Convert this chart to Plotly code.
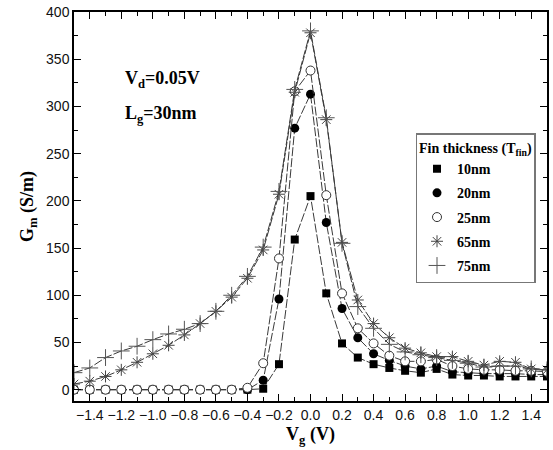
import plotly.graph_objects as go

vg = [-1.5, -1.4, -1.3, -1.2, -1.1, -1.0, -0.9, -0.8, -0.7, -0.6, -0.5, -0.4, -0.3, -0.2, -0.1,
      0.0, 0.1, 0.2, 0.3, 0.4, 0.5, 0.6, 0.7, 0.8, 0.9, 1.0, 1.1, 1.2, 1.3, 1.4, 1.5]

gm_10 = [0, 0, 0, 0, 0, 0, 0, 0, 0, 0, 0, 0, 1, 27, 159,
         205, 102, 49, 34, 27, 23, 20, 18, 22, 16, 15, 15, 14, 14, 14, 14]
gm_20 = [0, 0, 0, 0, 0, 0, 0, 0, 0, 0, 0, 0, 10, 96, 277,
         313, 177, 86, 55, 38, 31, 25, 22, 25, 19, 18, 17, 17, 17, 16, 16]
gm_25 = [0, 0, 0, 0, 0, 0, 0, 0, 0, 0, 0, 2, 28, 139, 316,
         338, 206, 102, 65, 49, 36, 30, 30, 32, 25, 22, 21, 21, 20, 20, 19]
gm_65 = [6, 9, 14, 21, 29, 38, 47, 58, 70, 83, 98, 118, 148, 207, 315,
         378, 286, 156, 95, 70, 55, 44, 39, 35, 35, 30, 26, 30, 29, 22, 21]
gm_75 = [18, 23, 34, 41, 46, 53, 59, 64, 70, 83, 100, 120, 151, 210, 318,
         380, 288, 155, 88, 65, 48, 40, 37, 34, 31, 28, 24, 25, 25, 22, 21]

labels = ["10nm", "20nm", "25nm", "65nm", "75nm"]
series = [gm_10, gm_20, gm_25, gm_65, gm_75]
symbols = ["square", "circle", "circle-open", "asterisk-open", "cross-thin-open"]
sizes = [8, 9, 9, 10, 12]
mcolors = ["black", "black", "#333333", "#444444", "#555555"]


def marker_for(sym, sz, mc):
    if sym == "circle-open":
        # white-filled circle so lines do not show through
        return dict(symbol="circle", size=sz, color="white", line=dict(color=mc, width=1))
    if "open" in sym:
        return dict(symbol=sym, size=sz, color=mc, line=dict(color=mc, width=1))
    return dict(symbol=sym, size=sz, color=mc, line=dict(color=mc, width=0))


fig = go.Figure()
for lab, ys, sym, sz, mc in zip(labels, series, symbols, sizes, mcolors):
    fig.add_trace(go.Scatter(
        x=vg, y=ys, mode="lines+markers", showlegend=False,
        line=dict(color="#3a3a3a", width=1, dash="9px,2px"),
        marker=marker_for(sym, sz, mc),
    ))
for i, (lab, sym, sz, mc) in enumerate(zip(labels, symbols, sizes, mcolors)):
    fig.add_trace(go.Scatter(
        x=[None], y=[None], mode="markers", name=lab, legendgroup="g%d" % i,
        marker=marker_for(sym, sz, mc),
    ))

serif = "Liberation Serif"
fig.add_annotation(x=-1.19, y=329, xanchor="left", yanchor="middle", showarrow=False,
                   text="<b>V<sub>d</sub>=0.05V</b>", font=dict(family=serif, size=18, color="black"))
fig.add_annotation(x=-1.19, y=291, xanchor="left", yanchor="middle", showarrow=False,
                   text="<b>L<sub>g</sub>=30nm</b>", font=dict(family=serif, size=18, color="black"))

axis_common = dict(showline=True, linecolor="black", linewidth=1.5, mirror="ticks",
                   ticks="inside", ticklen=7, tickwidth=1.2, tickcolor="black",
                   showgrid=False, zeroline=False,
                   tickfont=dict(family="Liberation Sans", size=14, color="#111111"))

fig.update_layout(
    width=553, height=450,
    margin=dict(l=74, r=4, t=10, b=49),
    paper_bgcolor="white", plot_bgcolor="white",
    xaxis=dict(range=[-1.5, 1.5], tick0=-1.4, dtick=0.2, tickformat=".1f",
               minor=dict(ticks="inside", ticklen=4, dtick=0.1, tick0=-1.5, tickcolor="black"),
               title=dict(text="<b>V<sub>g</sub> (V)</b>", font=dict(family=serif, size=18, color="black"),
                          standoff=6),
               **axis_common),
    yaxis=dict(range=[-12, 400], tick0=0, dtick=50,
               minor=dict(ticks="inside", ticklen=4, dtick=25, tick0=0, tickcolor="black"),
               title=dict(text="<b>G<sub>m</sub> (S/m)</b>", font=dict(family=serif, size=18, color="black"),
                          standoff=8),
               **axis_common),
    legend=dict(x=0.722, y=0.688, xanchor="left", yanchor="top",
                bgcolor="white", bordercolor="#777777", borderwidth=1.5,
                font=dict(family=serif, size=14, color="black", weight="bold"),
                title=dict(text="<b>Fin thickness (T<sub>fin</sub>)</b>",
                           font=dict(family=serif, size=14, color="black")),
                tracegroupgap=3, itemwidth=30),
)

fig.write_html("out.html")
